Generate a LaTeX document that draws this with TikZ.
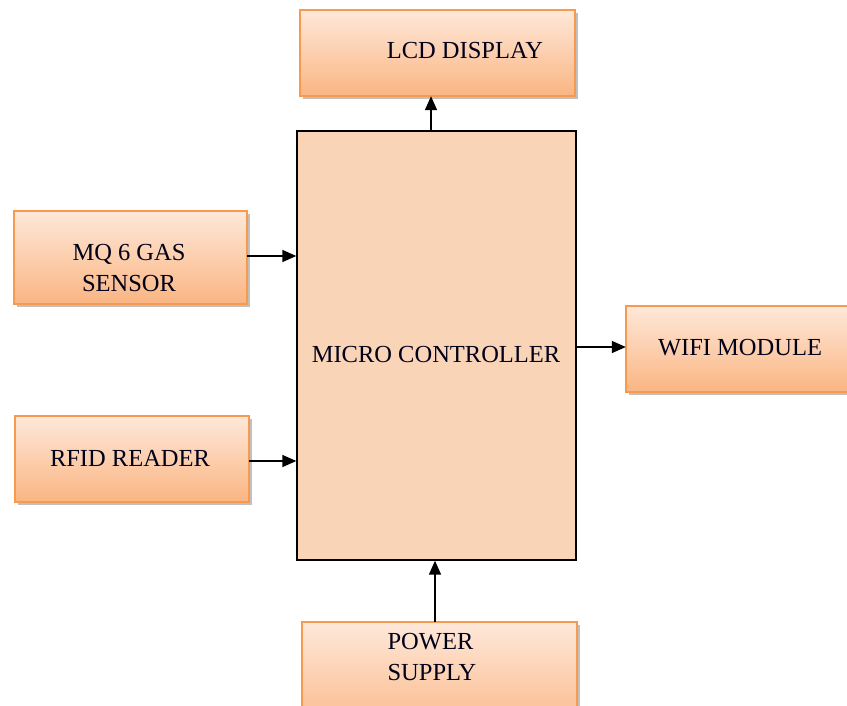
\documentclass[tikz,border=0pt]{standalone}
\usepackage{fontspec}
\setmainfont{Liberation Serif}
\usetikzlibrary{arrows.meta,shadows}
\definecolor{bordo}{HTML}{F79A4E}
\definecolor{topc}{HTML}{FEE8D9}
\definecolor{botc}{HTML}{FAB582}
\definecolor{mcfill}{HTML}{FAD4B6}
\tikzset{
  box/.style={rectangle, draw=bordo, line width=1.2pt, top color=topc, bottom color=botc,
    drop shadow={shadow xshift=2.5pt, shadow yshift=-3pt, opacity=0.45, fill=black!55}},
  mcbox/.style={rectangle, draw=black, line width=1.3pt, fill=mcfill},
  txt/.style={font=\fontsize{24.5}{31}\selectfont, text=black!90!blue, inner sep=0pt, align=center},
  arr/.style={line width=1.5pt, -{Triangle[length=14pt,width=12pt]}}
}
\begin{document}
\begin{tikzpicture}[x=1pt,y=1pt]
\useasboundingbox (0,0) rectangle (847,-706);
\clip (0,0) rectangle (847,-706);
% boxes
\path[box] (300,-10) rectangle (575,-96);
\node[inner sep=0, minimum width=275pt, minimum height=86pt] (lcdb) at (437.5,-53) {};
\node[mcbox, minimum width=279pt, minimum height=429pt] (mc) at (436.5,-345.5) {};
\path[box] (14,-211) rectangle (247,-304);
\node[inner sep=0, minimum width=233pt, minimum height=93pt] (mq) at (130.5,-257.5) {};
\path[box] (15,-416) rectangle (249,-502);
\node[inner sep=0, minimum width=234pt, minimum height=86pt] (rfid) at (132,-459) {};
\path[box] (626,-306) rectangle (880,-392);
\node[inner sep=0, minimum width=254pt, minimum height=86pt] (wifi) at (753,-349) {};
\path[box] (302,-622) rectangle (577,-740);
\node[inner sep=0, minimum width=275pt, minimum height=118pt] (power) at (439.5,-681) {};
% texts
\node[txt] (lcdt) at (465,-51) {LCD DISPLAY};
\node[txt] (mct) at (436,-355) {MICRO CONTROLLER};
\node[txt] (mqt) at (129,-268) {MQ 6 GAS\\SENSOR};
\node[txt] (rfidt) at (130,-458) {RFID READER};
\node[txt] (wifit) at (740,-348) {WIFI MODULE};
\node[txt, align=left] (powert) at (432,-657) {POWER\\SUPPLY};
% connectors
\draw[arr] (mc.north -| 431,0) -- (lcdb.south -| 431,0);
\draw[arr] (mq.east |- 0,-256) -- (mc.west |- 0,-256);
\draw[arr] (rfid.east |- 0,-461) -- (mc.west |- 0,-461);
\draw[arr] (mc.east |- 0,-347) -- (wifi.west |- 0,-347);
\draw[arr] (power.north -| 435,0) -- (mc.south -| 435,0);
\end{tikzpicture}
\end{document}
